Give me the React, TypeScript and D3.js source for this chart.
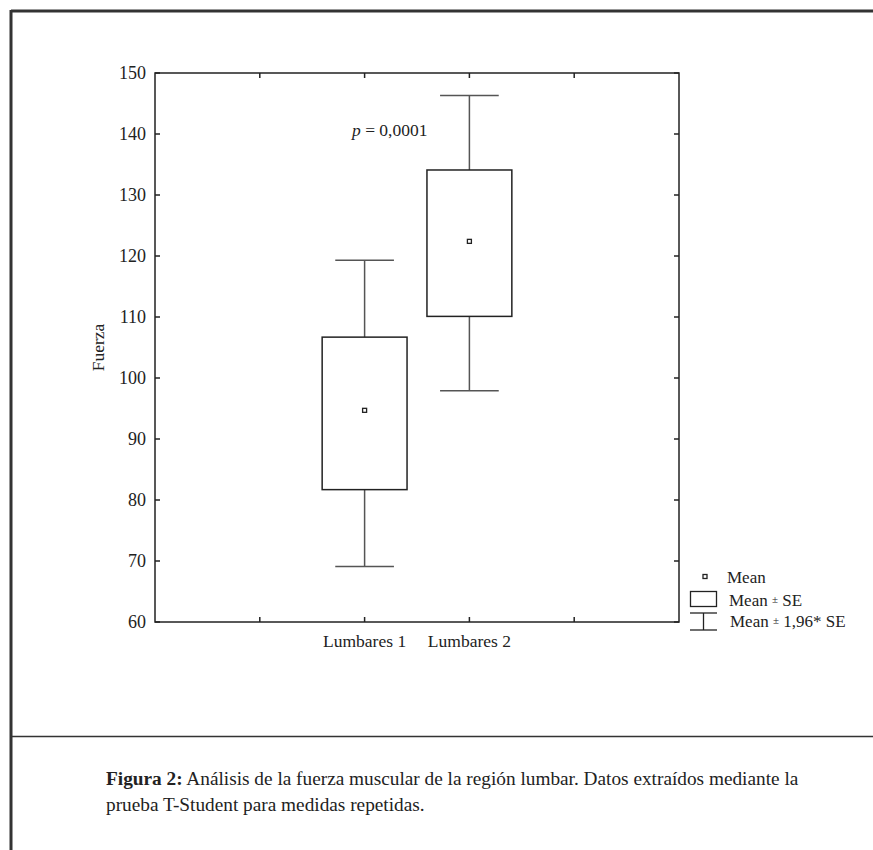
import React from "react";
import * as d3 from "d3";

// values
const categories = ["Lumbares 1", "Lumbares 2"];
const catPos = [2, 3];
const means = [94.7, 122.4];
const seLow = [81.7, 110.1];
const seHigh = [106.7, 134.1];
const ciLow = [69.1, 97.9];
const ciHigh = [119.3, 146.3];
const yTicks = [60, 70, 80, 90, 100, 110, 120, 130, 140, 150];
const xTicks = [1, 2, 3, 4];

const font = "'Liberation Serif', 'Times New Roman', serif";
const ink = "#222";

const App = () => {
  const left = 155,
    right = 679,
    top = 73,
    bottom = 622;

  const x = d3.scaleLinear().domain([0, 5]).range([left, right]);
  const y = d3.scaleLinear().domain([60, 150]).range([bottom, top]);

  const boxW = x(0.81) - x(0);
  const capW = x(0.56) - x(0);
  const tick = 5;

  return (
    <svg
      width={873}
      height={850}
      style={{ position: "absolute", left: 0, top: 0, background: "#fff" }}
      fontFamily={font}
    >
      {/* page frame */}
      <line x1={11} y1={11} x2={873} y2={11} stroke="#333" strokeWidth={3} />
      <line x1={11} y1={10} x2={11} y2={850} stroke="#333" strokeWidth={3} />
      <line x1={11} y1={736.5} x2={873} y2={736.5} stroke="#333" strokeWidth={1.5} />

      {/* plot frame */}
      <rect x={left} y={top} width={right - left} height={bottom - top} fill="none" stroke={ink} strokeWidth={1.5} />

      {yTicks.map((t) => (
        <g key={t}>
          <line x1={left} x2={left + tick} y1={y(t)} y2={y(t)} stroke={ink} strokeWidth={1.5} />
          <line x1={right} x2={right - tick} y1={y(t)} y2={y(t)} stroke={ink} strokeWidth={1.5} />
          <text x={left - 9} y={y(t)} dy="0.35em" textAnchor="end" fontSize={18} fill={ink}>
            {t}
          </text>
        </g>
      ))}
      {xTicks.map((t) => (
        <g key={t}>
          <line x1={x(t)} x2={x(t)} y1={bottom} y2={bottom - tick} stroke={ink} strokeWidth={1.5} />
          <line x1={x(t)} x2={x(t)} y1={top} y2={top + tick} stroke={ink} strokeWidth={1.5} />
        </g>
      ))}
      {categories.map((c, i) => (
        <text key={c} x={x(catPos[i])} y={647} textAnchor="middle" fontSize={17.5} fill={ink}>
          {c}
        </text>
      ))}

      <text
        transform={`translate(104, ${(top + bottom) / 2}) rotate(-90)`}
        textAnchor="middle"
        fontSize={17.5}
        fill={ink}
      >
        Fuerza
      </text>

      {/* boxes and whiskers */}
      {categories.map((c, i) => {
        const cx = x(catPos[i]);
        return (
          <g key={c} stroke={ink} fill="none">
            <line x1={cx} x2={cx} y1={y(ciHigh[i])} y2={y(seHigh[i])} stroke="#555" strokeWidth={1.5} />
            <line x1={cx} x2={cx} y1={y(seLow[i])} y2={y(ciLow[i])} stroke="#555" strokeWidth={1.5} />
            <line x1={cx - capW / 2} x2={cx + capW / 2} y1={y(ciHigh[i])} y2={y(ciHigh[i])} stroke="#555" strokeWidth={1.5} />
            <line x1={cx - capW / 2} x2={cx + capW / 2} y1={y(ciLow[i])} y2={y(ciLow[i])} stroke="#555" strokeWidth={1.5} />
            <rect
              x={cx - boxW / 2}
              y={y(seHigh[i])}
              width={boxW}
              height={y(seLow[i]) - y(seHigh[i])}
              strokeWidth={1.5}
            />
            <rect x={cx - 2} y={y(means[i]) - 2} width={4} height={4} strokeWidth={1.3} />
          </g>
        );
      })}

      <text x={352} y={136} fontSize={17.5} fill={ink}>
        <tspan fontStyle="italic">p</tspan> = 0,0001
      </text>

      {/* legend */}
      <g fill="none" stroke={ink}>
        <rect x={703} y={574.5} width={4} height={4} strokeWidth={1.3} />
        <rect x={690.5} y={591.5} width={26} height={15} strokeWidth={1.3} />
        <line x1={690} x2={717} y1={613} y2={613} strokeWidth={1.3} />
        <line x1={703.5} x2={703.5} y1={613} y2={630} strokeWidth={1.3} />
        <line x1={690} x2={717} y1={630} y2={630} strokeWidth={1.3} />
      </g>
      <g fontSize={17} fill={ink}>
        <text x={727} y={583}>Mean</text>
        <text x={729} y={606}>
          Mean <tspan fontSize={11} dy={-3}>±</tspan>
          <tspan dy={3}> SE</tspan>
        </text>
        <text x={730} y={627}>
          Mean <tspan fontSize={11} dy={-3}>±</tspan>
          <tspan dy={3}> 1,96* SE</tspan>
        </text>
      </g>

      {/* caption */}
      <g fontSize={19.3} fill={ink}>
        <text x={106} y={785}>
          <tspan fontWeight="bold">Figura 2:</tspan> Análisis de la fuerza muscular de la región lumbar. Datos extraídos mediante la
        </text>
        <text x={106} y={811}>
          prueba T-Student para medidas repetidas.
        </text>
      </g>
    </svg>
  );
};

export default App;
